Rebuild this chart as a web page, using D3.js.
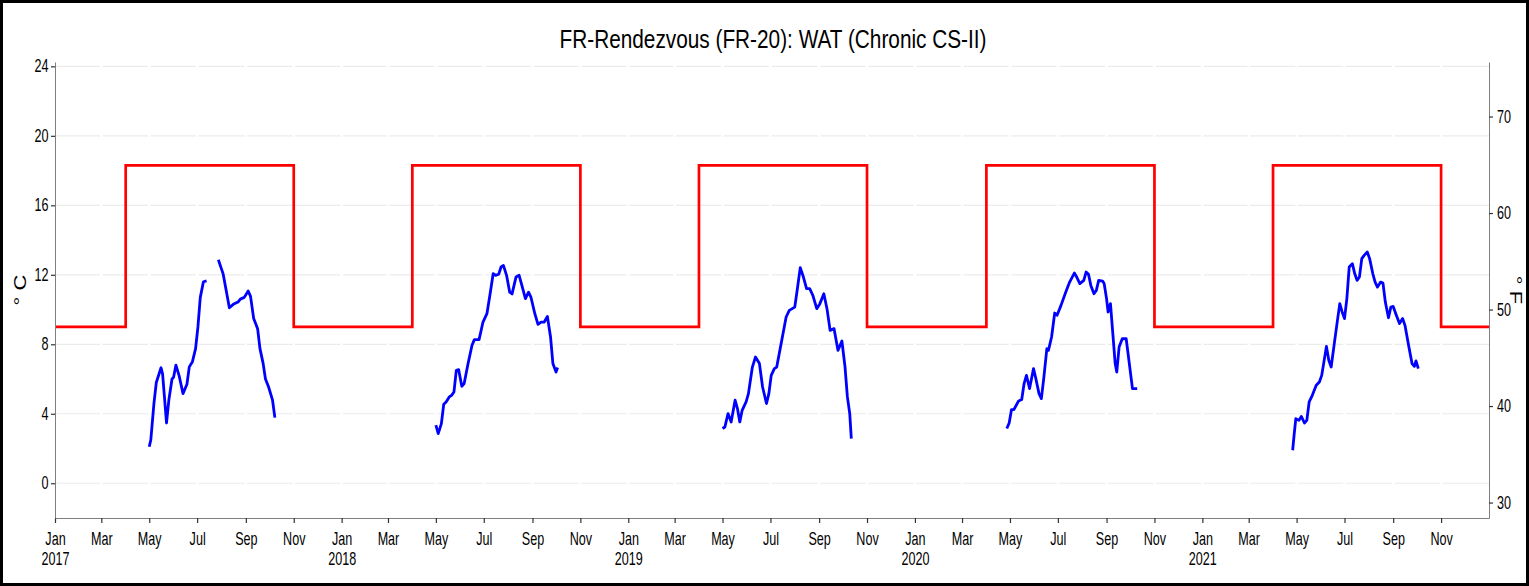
<!DOCTYPE html>
<html>
<head>
<meta charset="utf-8">
<script src="https://cdn.jsdelivr.net/npm/d3@7"></script>
<style>
body { margin: 0; background: #fff; }
svg { display: block; }
text { font-family: "Liberation Sans", Arial, sans-serif; }
</style>
</head>
<body>
<script>
// WAT readings (deg C), one pair of arrays per season; null = missing data
const dates2017 = ["2017-05-01","2017-05-03","2017-05-07","2017-05-10","2017-05-16","2017-05-18","2017-05-23","2017-05-26","2017-05-30","2017-06-01","2017-06-04","2017-06-08","2017-06-13","2017-06-18","2017-06-21","2017-06-25","2017-06-29","2017-07-02","2017-07-05","2017-07-09","2017-07-13","2017-07-20","2017-07-28","2017-08-03","2017-08-07","2017-08-11","2017-08-16","2017-08-22","2017-08-25","2017-08-30","2017-09-04","2017-09-07","2017-09-11","2017-09-16","2017-09-19","2017-09-23","2017-09-26","2017-09-30","2017-10-05","2017-10-08"]
const wat2017 = [2.1,2.5,4.6,5.8,6.65,6.3,3.47,4.8,6.0,6.1,6.8,6.2,5.16,5.7,6.7,7.0,7.75,9.0,10.7,11.6,11.65,null,12.87,12.07,11.1,10.1,10.3,10.43,10.6,10.7,11.07,10.76,9.48,8.9,7.75,6.9,6.0,5.54,4.78,3.78]

const dates2018 = ["2018-05-01","2018-05-04","2018-05-08","2018-05-11","2018-05-14","2018-05-18","2018-05-21","2018-05-24","2018-05-27","2018-05-30","2018-06-03","2018-06-06","2018-06-11","2018-06-16","2018-06-19","2018-06-25","2018-06-30","2018-07-05","2018-07-09","2018-07-13","2018-07-16","2018-07-20","2018-07-23","2018-07-26","2018-07-30","2018-08-03","2018-08-06","2018-08-11","2018-08-15","2018-08-19","2018-08-23","2018-08-27","2018-08-30","2018-09-04","2018-09-08","2018-09-12","2018-09-16","2018-09-20","2018-09-24","2018-09-27","2018-10-01","2018-10-03"]
const wat2018 = [3.34,2.86,3.43,4.55,4.68,4.97,5.06,5.25,6.5,6.54,5.58,5.74,6.89,7.94,8.27,8.27,9.28,9.76,10.9,12.07,11.97,12.03,12.45,12.54,11.97,11.0,10.9,11.87,11.97,11.3,10.63,11.0,10.72,9.76,9.15,9.28,9.28,9.6,8.42,6.89,6.4,6.66]

const dates2019 = ["2019-05-01","2019-05-04","2019-05-08","2019-05-12","2019-05-17","2019-05-20","2019-05-23","2019-05-26","2019-05-31","2019-06-03","2019-06-08","2019-06-12","2019-06-17","2019-06-21","2019-06-26","2019-06-29","2019-07-02","2019-07-06","2019-07-09","2019-07-13","2019-07-17","2019-07-21","2019-07-25","2019-08-01","2019-08-04","2019-08-08","2019-08-12","2019-08-16","2019-08-20","2019-08-24","2019-08-29","2019-09-02","2019-09-07","2019-09-11","2019-09-15","2019-09-20","2019-09-25","2019-09-30","2019-10-04","2019-10-07","2019-10-10","2019-10-12"]
const wat2019 = [3.15,3.24,4.01,3.53,4.78,4.3,3.53,4.2,4.68,5.16,6.69,7.27,6.89,5.54,4.59,5.16,6.21,6.6,6.69,7.65,8.61,9.57,9.95,10.14,11.1,12.41,11.87,11.2,11.2,10.82,10.05,10.34,10.91,10.05,8.8,8.9,7.65,8.19,6.69,4.97,4.01,2.57]

const dates2020 = ["2020-04-27","2020-04-30","2020-05-03","2020-05-06","2020-05-09","2020-05-12","2020-05-16","2020-05-19","2020-05-22","2020-05-26","2020-05-31","2020-06-03","2020-06-07","2020-06-10","2020-06-13","2020-06-17","2020-06-19","2020-06-23","2020-06-27","2020-06-30","2020-07-05","2020-07-11","2020-07-16","2020-07-22","2020-07-25","2020-07-29","2020-08-03","2020-08-06","2020-08-09","2020-08-12","2020-08-16","2020-08-19","2020-08-22","2020-08-27","2020-08-29","2020-09-01","2020-09-03","2020-09-06","2020-09-09","2020-09-12","2020-09-14","2020-09-17","2020-09-21","2020-09-26","2020-09-30","2020-10-04","2020-10-07","2020-10-10"]
const wat2020 = [3.15,3.47,4.24,4.24,4.49,4.74,4.82,5.74,6.21,5.45,6.6,6.02,5.16,4.87,6.02,7.75,7.65,8.42,9.8,9.67,10.24,11.0,11.58,12.1,11.87,11.49,11.68,12.16,12.03,11.39,10.91,11.1,11.68,11.64,11.49,10.63,9.86,10.34,8.61,6.89,6.4,7.84,8.32,8.32,6.89,5.45,5.45,5.45]

const dates2021 = ["2021-04-26","2021-04-28","2021-04-30","2021-05-04","2021-05-07","2021-05-11","2021-05-14","2021-05-17","2021-05-21","2021-05-26","2021-05-30","2021-06-02","2021-06-08","2021-06-11","2021-06-14","2021-06-18","2021-06-22","2021-06-25","2021-06-28","2021-07-01","2021-07-04","2021-07-07","2021-07-11","2021-07-14","2021-07-17","2021-07-20","2021-07-23","2021-07-26","2021-07-30","2021-08-02","2021-08-06","2021-08-09","2021-08-12","2021-08-16","2021-08-19","2021-08-22","2021-08-26","2021-08-29","2021-09-01","2021-09-05","2021-09-09","2021-09-13","2021-09-16","2021-09-21","2021-09-25","2021-09-28","2021-09-30","2021-10-03"]
const wat2021 = [1.9,2.86,3.72,3.62,3.85,3.47,3.62,4.68,5.06,5.64,5.83,6.21,7.88,7.08,6.69,8.04,9.38,10.34,9.86,9.48,10.63,12.45,12.64,12.07,11.68,11.87,12.93,13.12,13.31,12.93,12.07,11.58,11.29,11.58,11.52,10.43,9.53,10.14,10.18,9.67,9.19,9.48,9.09,7.84,6.89,6.73,7.04,6.6]

// chronic CS-II criterion (deg C), steps at these dates
const criterionDates = ["2017-01-01","2017-04-01","2017-11-01","2018-04-01","2018-11-01","2019-04-01","2019-11-01","2020-04-01","2020-11-01","2021-04-01","2021-11-01","2022-01-01"]
const criterionValues = [9.0,18.3,9.0,18.3,9.0,18.3,9.0,18.3,9.0,18.3,9.0,9.0]

const celsiusTicks = [0,4,8,12,16,20,24]
const fahrenheitTicks = [30,40,50,60,70]

const w = 1529
const h = 586
const pLeft = 55, pRight = 1489, pTop = 62, pBottom = 518
const sx = 0.72   // the text in the picture is squeezed sideways
const parse = d3.timeParse("%Y-%m-%d")

const svg = d3.select("body")
  .append("svg")
  .attr("width", w)
  .attr("height", h)

const x = d3.scaleTime()
  .domain([parse("2017-01-01"), parse("2022-01-01")])
  .range([pLeft, pRight])
const y = d3.scaleLinear().domain([-2, 24.25]).range([pBottom, pTop])
const yF = d3.scaleLinear().domain(y.domain().map(c => c * 1.8 + 32)).range([pBottom, pTop])
const monthTicks = d3.timeMonth.every(2).range(parse("2017-01-01"), parse("2021-12-01"))

//grid
svg.append("g")
  .selectAll("line")
  .data(celsiusTicks)
  .join("line")
  .attr("x1", pLeft).attr("x2", pRight)
  .attr("y1", d => y(d)).attr("y2", d => y(d))
  .attr("stroke", "#ebebeb")
  .attr("stroke-width", 1.2)
svg.append("g")
  .selectAll("line")
  .data(monthTicks)
  .join("line")
  .attr("x1", d => x(d)).attr("x2", d => x(d))
  .attr("y1", pTop).attr("y2", pBottom)
  .attr("stroke", "#fff")
  .attr("stroke-width", 2.5)

//criterion
const seasons = [[dates2017, wat2017], [dates2018, wat2018], [dates2019, wat2019], [dates2020, wat2020], [dates2021, wat2021]]
const crit = criterionDates.map((d, i) => ({date: parse(d), value: criterionValues[i]}))
svg.append("path")
  .datum(crit)
  .attr("fill", "none")
  .attr("stroke", "#ff0000")
  .attr("stroke-width", 2.7)
  .attr("d", d3.line().curve(d3.curveStepAfter).x(d => x(d.date)).y(d => y(d.value)))

//wat series, one path per season
seasons.forEach(([ds, vs]) => {
  const pts = ds.map((d, i) => ({date: parse(d), value: vs[i]}))
  svg.append("path")
    .datum(pts)
    .attr("fill", "none")
    .attr("stroke", "#0000ff")
    .attr("stroke-width", 2.8)
    .attr("stroke-linejoin", "round")
    .attr("d", d3.line().defined(d => d.value != null).x(d => x(d.date)).y(d => y(d.value)))
})

//axes
const xAxis = svg.append("g")
  .attr("transform", `translate(0,${pBottom})`)
  .call(d3.axisBottom(x).tickValues(monthTicks).tickSize(5).tickSizeOuter(0).tickFormat(""))
xAxis.select(".domain").attr("stroke", "#7f7f7f")
xAxis.selectAll(".tick line").attr("stroke", "#333").attr("stroke-width", 1.2)
xAxis.selectAll(".tick text").remove()
xAxis.selectAll(".tick").each(function(d) {
  const t = d3.select(this).append("text")
    .attr("fill", "#000")
    .attr("font-size", 17.5)
    .attr("text-anchor", "middle")
    .attr("transform", `scale(${sx},1)`)
  t.append("tspan").attr("x", 0).attr("y", 27).text(d3.timeFormat("%b")(d))
  if (d.getMonth() === 0) t.append("tspan").attr("x", 0).attr("y", 47).text(d.getFullYear())
})

const yAxis = svg.append("g")
  .attr("transform", `translate(${pLeft},0)`)
  .call(d3.axisLeft(y).tickValues(celsiusTicks).tickSize(4).tickSizeOuter(0))
yAxis.select(".domain").attr("stroke", "#7f7f7f")
yAxis.selectAll(".tick line").attr("stroke", "#333").attr("stroke-width", 1.2)
yAxis.selectAll(".tick text")
  .attr("x", -6.5 / sx)
  .attr("font-size", 17.5)
  .attr("fill", "#000")
  .attr("transform", `scale(${sx},1)`)

const yAxisF = svg.append("g")
  .attr("transform", `translate(${pRight},0)`)
  .call(d3.axisRight(yF).tickValues(fahrenheitTicks).tickSize(4).tickSizeOuter(0))
yAxisF.select(".domain").attr("stroke", "#7f7f7f")
yAxisF.selectAll(".tick line").attr("stroke", "#333").attr("stroke-width", 1.2)
yAxisF.selectAll(".tick text")
  .attr("x", 8 / sx)
  .attr("font-size", 17.5)
  .attr("fill", "#000")
  .attr("transform", `scale(${sx},1)`)

//titles
svg.append("text")
  .attr("transform", `translate(773,47.5) scale(0.8,1)`)
  .attr("text-anchor", "middle")
  .attr("font-size", 26)
  .attr("fill", "#000")
  .text("FR-Rendezvous (FR-20): WAT (Chronic CS-II)")
svg.append("text")
  .attr("transform", `translate(26,${(pTop + pBottom) / 2}) rotate(-90) scale(1,0.72)`)
  .attr("text-anchor", "middle")
  .attr("font-size", 22)
  .attr("fill", "#000")
  .text("° C")
svg.append("text")
  .attr("transform", `translate(1510,${(pTop + pBottom) / 2}) rotate(90) scale(1,0.72)`)
  .attr("text-anchor", "middle")
  .attr("font-size", 22)
  .attr("fill", "#000")
  .text("° F")

//frame
svg.append("rect")
  .attr("x", 1.5).attr("y", 1.5)
  .attr("width", w - 3).attr("height", h - 3)
  .attr("fill", "none")
  .attr("stroke", "#000")
  .attr("stroke-width", 3)
</script>
</body>
</html>
